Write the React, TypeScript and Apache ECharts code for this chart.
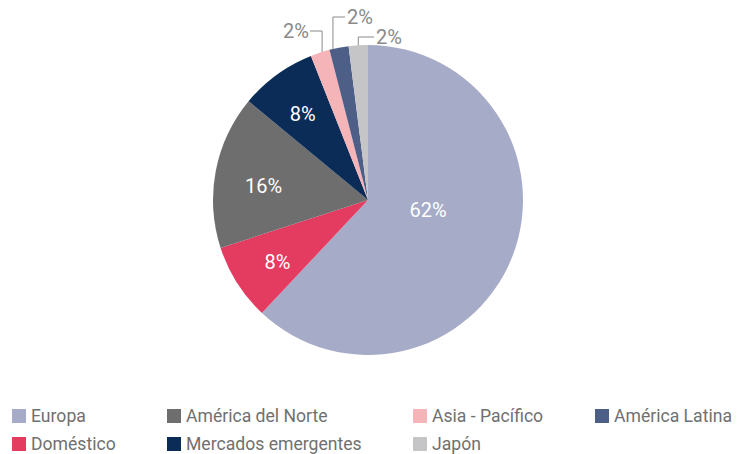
import React, { useEffect, useRef } from "react";
import * as echarts from "echarts";

const categories = [
  "Europa",
  "Doméstico",
  "América del Norte",
  "Mercados emergentes",
  "Asia - Pacífico",
  "América Latina",
  "Japón",
];
const values = [62, 8, 16, 8, 2, 2, 2];
const colors = ["#a6abc7", "#e43b61", "#6e6e6e", "#0b2c57", "#f4b4b8", "#4e5f87", "#c5c5c8"];
const legendColumns = [
  ["Europa", "Doméstico"],
  ["América del Norte", "Mercados emergentes"],
  ["Asia - Pacífico", "Japón"],
  ["América Latina"],
];

const CX = 368;
const CY = 200;
const R = 155;

export default function App() {
  const ref = useRef<HTMLDivElement>(null);
  useEffect(() => {
    document.body.style.margin = "0";
    if (!ref.current) return;
    const chart = echarts.init(ref.current, undefined, { renderer: "svg" });
    const legendX = [12, 167, 413, 595];
    const outsideIdx = [4, 5, 6];
    const outsideLabel: Record<number, { x: number; y: number; align: string; adx: number }> = {
      4: { x: 309, y: 31, align: "right", adx: 2 },
      5: { x: 347, y: 17, align: "left", adx: -6 },
      6: { x: 376, y: 37, align: "left", adx: 0 },
    };
    const insideScale: Record<number, number> = { 1: 1.42, 2: 1.36, 3: 1.42 };
    const insideShift: Record<number, number[]> = { 1: [6, 1], 2: [3, 7], 3: [2, 6] };
    const option: any = {
      animation: false,
      color: colors,
      legend: legendColumns.map((col, i) => ({
        data: col,
        orient: "vertical",
        left: legendX[i],
        top: 407,
        height: 47,
        itemWidth: 14,
        itemHeight: 14,
        itemGap: 10,
        icon: "rect",
        selectedMode: false,
        padding: 0,
        textStyle: {
          color: "#707070",
          fontSize: 17.6,
          lineHeight: 18,
          fontFamily: "Roboto",
        },
      })),
      series: [
        {
          type: "pie",
          center: [CX, CY],
          radius: R,
          startAngle: 90,
          clockwise: true,
          avoidLabelOverlap: false,
          data: categories.map((name, i) => {
            const outside = outsideIdx.includes(i);
            return {
              name,
              value: values[i],
              label: outside
                ? { position: "outside", color: "#8a8a8a" }
                : { position: "inside", color: "#ffffff" },
              labelLine: { show: outside, lineStyle: { color: "#8a8a8a", width: 1 } },
            };
          }),
          label: {
            show: true,
            formatter: "{c}%",
            fontSize: 20,
            fontFamily: "Roboto",
          },
          labelLayout: (params: any) => {
            const i = params.dataIndex;
            if (outsideIdx.includes(i)) {
              const o = outsideLabel[i];
              const p0 = params.labelLinePoints ? params.labelLinePoints[0] : [CX, CY - R];
              const ax = p0[0] + o.adx;
              const ay = p0[1] + 2;
              const endX = o.align === "right" ? o.x + 1 : o.x - 2;
              return {
                x: o.x,
                y: o.y,
                align: o.align,
                verticalAlign: "middle",
                labelLinePoints: [
                  [ax, ay],
                  [ax, o.y],
                  [endX, o.y],
                ],
              };
            }
            const r = params.labelRect;
            const lx = r.x + r.width / 2;
            const ly = r.y + r.height / 2;
            if (i === 0) {
              return { x: 428, y: 210, align: "center", verticalAlign: "middle" };
            }
            const k = insideScale[i] || 1;
            const s = insideShift[i] || [0, 0];
            return {
              x: CX + (lx - CX) * k + s[0],
              y: CY + (ly - CY) * k + s[1],
              align: "center",
              verticalAlign: "middle",
            };
          },
        },
      ],
    };
    chart.setOption(option);
    return () => chart.dispose();
  }, []);
  return <div ref={ref} style={{ width: 737, height: 454 }} />;
}
